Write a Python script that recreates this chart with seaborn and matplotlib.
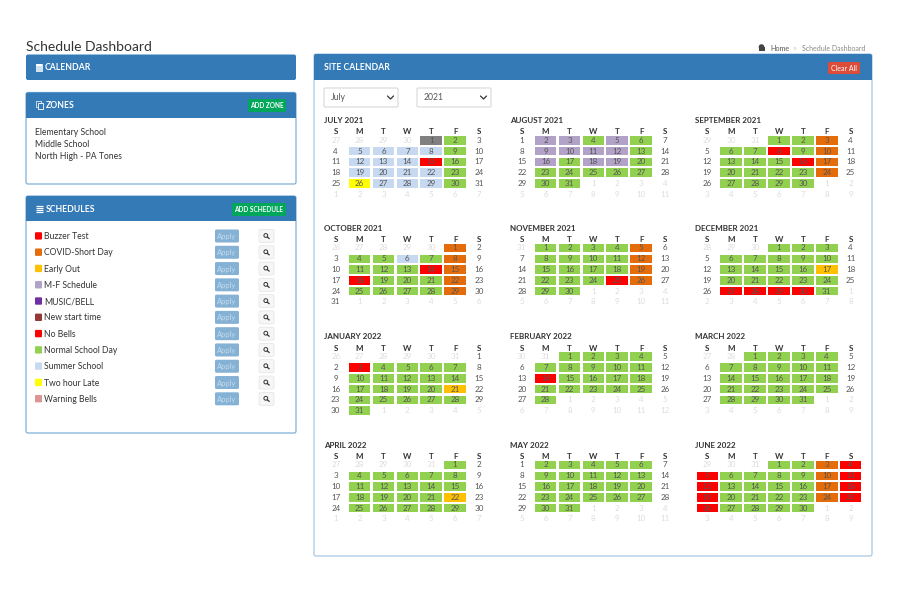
import matplotlib
matplotlib.use("Agg")
import matplotlib.pyplot as plt
from matplotlib.colors import ListedColormap
from matplotlib.patches import FancyBboxPatch, Rectangle, Circle
import numpy as np
import pandas as pd
import seaborn as sns

# schedule codes used in the month grids, "." means nothing scheduled
codes = ".GBRYPOEK"
code_colors = ["#ffffff", "#92d050", "#c6d9f0", "#ff0000", "#ffff00",
               "#b3a2c7", "#e46c0a", "#ffc000", "#808080"]

weekdays = ["S", "M", "T", "W", "T", "F", "S"]
month_titles = ["JULY 2021", "AUGUST 2021", "SEPTEMBER 2021", "OCTOBER 2021",
                "NOVEMBER 2021", "DECEMBER 2021", "JANUARY 2022", "FEBRUARY 2022",
                "MARCH 2022", "APRIL 2022", "MAY 2022", "JUNE 2022"]
month_starts = ["2021-07-01", "2021-08-01", "2021-09-01", "2021-10-01",
                "2021-11-01", "2021-12-01", "2022-01-01", "2022-02-01",
                "2022-03-01", "2022-04-01", "2022-05-01", "2022-06-01"]

jul = ["....KG.", ".BBBBG.", ".BBBRG.", ".BBBBG.", ".YBBBG.", "......."]
aug = [".PPGPG.", ".PPPPG.", ".PGPPG.", ".GGGGG.", ".GG....", "......."]
sep = ["...GGO.", ".GGRGO.", ".GGGRO.", ".GGGGO.", ".GGGG..", "......."]
oct_ = [".....O.", ".GGBGO.", ".GGGRO.", ".RGGGO.", ".GGGGO.", "......."]
nov = [".GGGGO.", ".GGGGO.", ".GGGGO.", ".GGGRO.", ".GG....", "......."]
dec = ["...GGG.", ".GGGGG.", ".GGGGE.", ".GGGGG.", ".RRRRG.", "......."]
jan = [".......", ".RGGGG.", ".GGGGG.", ".GGGGE.", ".GGGGG.", ".G....."]
feb = ["..GGGG.", ".GGGGG.", ".RGGGG.", ".GGGGG.", ".G.....", "......."]
mar = ["..GGGG.", ".GGGGG.", ".GGGGG.", ".GGGGG.", ".GGGG..", "......."]
apr = [".....G.", ".GGGGG.", ".GGGGG.", ".GGGGE.", ".GGGGG.", "......."]
may = [".GGGGG.", ".GGGGG.", ".GGGGG.", ".GGGGG.", ".GG....", "......."]
jun = ["...GGOR", "RGGGGOR", "RGGGGOR", "RGGGGOR", "RGGGG..", "......."]
month_grids = [jul, aug, sep, oct_, nov, dec, jan, feb, mar, apr, may, jun]

zones = ["Elementary School", "Middle School", "North High - PA Tones"]
schedule_names = ["Buzzer Test", "COVID-Short Day", "Early Out", "M-F Schedule",
                  "MUSIC/BELL", "New start time", "No Bells", "Normal School Day",
                  "Summer School", "Two hour Late", "Warning Bells"]
schedule_colors = ["#ff0000", "#e46c0a", "#ffc000", "#b3a2c7", "#7030a0", "#953735",
                   "#ff0000", "#92d050", "#c6d9f0", "#ffff00", "#d99694"]

BLUE = "#337ab7"
EDGE = "#7fb0d8"
FONT = "Lato"

sns.set_theme(style="white")
plt.rcParams["font.family"] = FONT

fig = plt.figure(figsize=(9, 6), dpi=100, facecolor="white")
page = fig.add_axes([0, 0, 1, 1])
page.set_xlim(0, 900)
page.set_ylim(600, 0)
page.axis("off")


def box(x0, y0, x1, y1, fc, ec="none", r=2, lw=0.8):
    page.add_patch(FancyBboxPatch((x0 + r, y0 + r), x1 - x0 - 2 * r, y1 - y0 - 2 * r,
                                  boxstyle="round,pad=%s,rounding_size=%s" % (r, r),
                                  fc=fc, ec=ec, lw=lw))


def label(x, y, s, size=6.2, color="#333333", weight="normal", ha="left"):
    page.text(x, y + 0.9, s, fontsize=size, color=color, fontweight=weight, ha=ha, va="center")


def panel(y0, y1, x0, x1, head, title, title_x):
    box(x0, y0, x1, y1, "white", EDGE if x0 < 100 else "#a9c8e4", lw=0.9)
    box(x0, y0, x1, head, BLUE)
    page.add_patch(Rectangle((x0, head - 4), x1 - x0, 4, fc=BLUE, ec="none"))
    label(title_x, (y0 + head) / 2 - 0.3, title, size=6.2, color="white", weight="bold")


label(25.5, 46.5, "Schedule Dashboard", size=10, color="#333333")

# breadcrumb
page.add_patch(Rectangle((758.5, 47), 6, 3.5, fc="#444444", ec="none"))
page.add_patch(Circle((761.5, 47), 2.8, fc="#444444", ec="none"))
label(770, 48, "Home", size=5.2, color="#555555")
label(792, 47.5, ">", size=5, color="#bbbbbb")
label(802, 48, "Schedule Dashboard", size=5, color="#888888")

# left column
box(26, 54.5, 296, 80, BLUE)
label(45, 66.8, "CALENDAR", size=6.2, color="white", weight="bold")
page.add_patch(Rectangle((35.5, 64), 6.5, 7, fc="#cfe0ef", ec="white", lw=0.5))
page.add_patch(Rectangle((35.5, 64), 6.5, 1.6, fc="white", ec="none"))

panel(92.5, 184, 26, 296, 117.5, "ZONES", 45.5)
page.add_patch(Rectangle((35.5, 101), 5, 6, fc="none", ec="white", lw=0.5))
page.add_patch(Rectangle((37.5, 103), 5.5, 6, fc=BLUE, ec="white", lw=0.6))
box(248, 99, 286, 112, "#00a65a", r=1.5)
label(267, 105, "ADD ZONE", size=4.7, color="white", weight="bold", ha="center")
for i, name in enumerate(zones):
    label(35, 132 + 12 * i, name, size=6.2)

panel(196, 433, 26, 296, 221, "SCHEDULES", 45.5)
for y in [205.5, 207.5, 209.5, 211.5]:
    page.plot([35.5, 43], [y, y], color="white", lw=0.9, solid_capstyle="butt")
box(232, 203, 286, 216, "#00a65a", r=1.5)
label(259, 209, "ADD SCHEDULE", size=4.7, color="white", weight="bold", ha="center")
for i, (name, c) in enumerate(zip(schedule_names, schedule_colors)):
    y = 236 + 16.28 * i
    box(35, y - 3.8, 42, y + 3.6, c, r=1)
    label(44, y - 0.3, name, size=6.2)
    box(215, y - 6.5, 239, y + 6.5, "#84b1d4", r=1.5)
    label(227, y - 0.3, "Apply", size=5.4, color="#c4dbee", ha="center")
    box(259, y - 6.5, 274, y + 6.5, "#f6f6f6", ec="#e4e4e4", r=1.5, lw=0.5)
    page.add_patch(Circle((265.8, y - 0.5), 1.9, fc="none", ec="#333333", lw=0.7))
    page.plot([267.2, 269.2], [y + 0.9, y + 2.6], color="#333333", lw=0.9)

# right panel
panel(54, 556, 314, 872, 80, "SITE CALENDAR", 324)
box(828, 62, 860, 74, "#dd4b39", r=1)
label(844, 67.5, "Clear All", size=5, color="white", ha="center")
for x0, x1, s in [(324, 398, "July"), (417, 491, "2021")]:
    box(x0, 88, x1, 107, "white", ec="#cccccc", r=1, lw=0.6)
    label(x0 + 7, 96.8, s, size=6.2, color="#555555")
    page.plot([x1 - 10.5, x1 - 7.5, x1 - 4.5], [96, 99, 96], color="#333333", lw=0.9)

# calendars, one heatmap per month
cmap = ListedColormap(code_colors)
col_lefts = [323.8, 509.8, 695.4]
row_tops = [134.9, 242.6, 351.3, 459.6]
cell_w, cell_h = 23.88, 10.78

for m, (title, start, grid) in enumerate(zip(month_titles, month_starts, month_grids)):
    first = pd.Timestamp(start)
    days = pd.date_range(first - pd.Timedelta(days=(first.weekday() + 1) % 7), periods=42)
    in_month = (days.month == first.month).reshape(6, 7)
    numbers = np.array([str(d.day) for d in days]).reshape(6, 7)
    values = np.array([[codes.index(c) for c in row] for row in grid])

    left, top = col_lefts[m % 3], row_tops[m // 3]
    w, h = 7 * cell_w, 6 * cell_h
    ax = fig.add_axes([left / 900, 1 - (top + h) / 600, w / 900, h / 600])
    ax.patch.set_alpha(0)
    sns.heatmap(values, cmap=cmap, vmin=0, vmax=len(codes) - 1, annot=numbers, fmt="",
                cbar=False, linewidths=0.9, linecolor="white", ax=ax,
                xticklabels=weekdays, yticklabels=False,
                annot_kws={"fontsize": 5.8, "color": "#555555"})
    ax.collections[0].set_snap(False)  # keeps the rows even
    for txt, ok in zip(ax.texts, in_month.ravel()):
        txt.set_color("#555555" if ok else "#dddddd")
    ax.xaxis.tick_top()
    ax.tick_params(axis="x", length=0, pad=-0.3, labelsize=5.8, labelcolor="#333333")
    for t in ax.get_xticklabels():
        t.set_fontweight("bold")
        t.set_rotation(0)
    ax.set_title(title, loc="left", y=1.0, pad=8.6, fontsize=5.8,
                 fontweight="bold", color="#333333", x=0)

fig.savefig("out.png", dpi=100)
